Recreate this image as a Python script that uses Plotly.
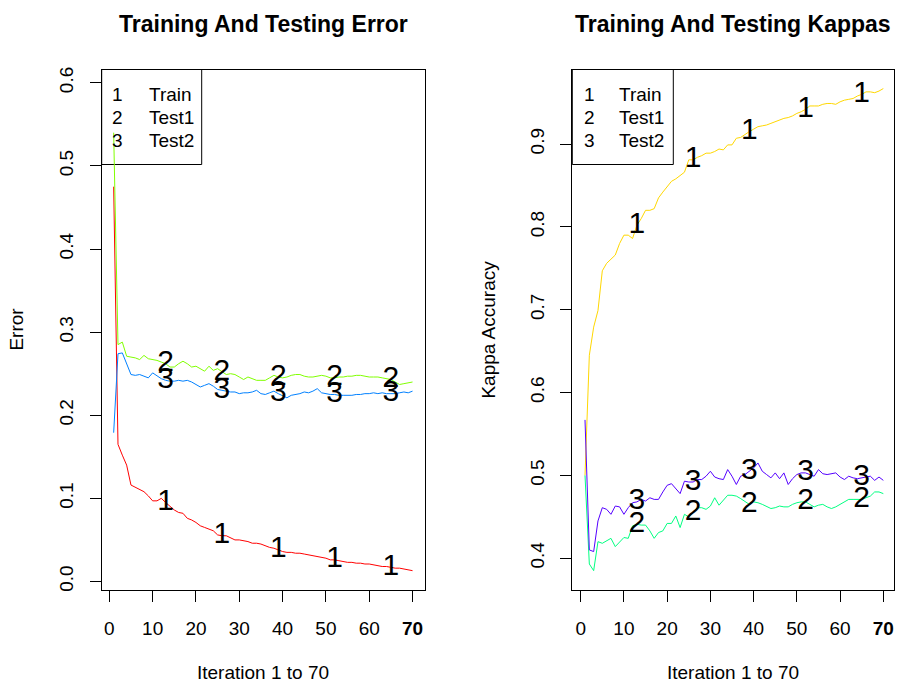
import plotly.graph_objects as go

# ---------------- data ----------------
iterations = list(range(1, 71))

train_error = [0.475, 0.165, 0.152, 0.140, 0.116, 0.113, 0.111, 0.108, 0.103, 0.097,
               0.097, 0.100, 0.095, 0.090, 0.086, 0.083, 0.082, 0.076, 0.074, 0.071,
               0.067, 0.065, 0.063, 0.061, 0.056, 0.055, 0.055, 0.052, 0.050, 0.050,
               0.049, 0.048, 0.046, 0.046, 0.045, 0.043, 0.041, 0.040, 0.038, 0.036,
               0.035, 0.035, 0.034, 0.034, 0.033, 0.032, 0.031, 0.030, 0.029, 0.028,
               0.026, 0.026, 0.025, 0.024, 0.023, 0.023, 0.022, 0.022, 0.021, 0.021,
               0.020, 0.019, 0.018, 0.018, 0.017, 0.016, 0.016, 0.015, 0.014, 0.013]

test1_error = [0.540, 0.285, 0.288, 0.271, 0.270, 0.269, 0.267, 0.272, 0.268, 0.267,
               0.266, 0.264, 0.262, 0.258, 0.258, 0.262, 0.265, 0.262, 0.258, 0.259,
               0.256, 0.253, 0.259, 0.254, 0.256, 0.252, 0.249, 0.250, 0.249, 0.246,
               0.243, 0.246, 0.244, 0.242, 0.242, 0.242, 0.245, 0.248, 0.246, 0.245,
               0.246, 0.248, 0.249, 0.249, 0.247, 0.246, 0.246, 0.247, 0.248, 0.247,
               0.245, 0.245, 0.246, 0.246, 0.247, 0.247, 0.248, 0.248, 0.247, 0.246,
               0.246, 0.246, 0.245, 0.244, 0.243, 0.240, 0.237, 0.238, 0.239, 0.240]

test2_error = [0.179, 0.274, 0.275, 0.262, 0.249, 0.248, 0.249, 0.247, 0.245, 0.251,
               0.247, 0.244, 0.242, 0.241, 0.241, 0.242, 0.241, 0.242, 0.240, 0.237,
               0.234, 0.236, 0.238, 0.235, 0.231, 0.230, 0.229, 0.228, 0.228, 0.226,
               0.227, 0.227, 0.228, 0.230, 0.226, 0.225, 0.227, 0.229, 0.226, 0.223,
               0.221, 0.224, 0.225, 0.226, 0.228, 0.227, 0.229, 0.232, 0.227, 0.226,
               0.225, 0.225, 0.224, 0.224, 0.224, 0.224, 0.225, 0.225, 0.226, 0.226,
               0.227, 0.226, 0.227, 0.226, 0.226, 0.226, 0.227, 0.228, 0.227, 0.229]

train_kappa = [0.500, 0.645, 0.679, 0.699, 0.747, 0.756, 0.761, 0.766, 0.780, 0.790,
               0.790, 0.786, 0.802, 0.810, 0.820, 0.820, 0.822, 0.835, 0.842, 0.848,
               0.855, 0.858, 0.862, 0.866, 0.881, 0.881, 0.884, 0.886, 0.889, 0.889,
               0.891, 0.894, 0.893, 0.899, 0.899, 0.907, 0.908, 0.912, 0.915, 0.918,
               0.921, 0.922, 0.923, 0.925, 0.927, 0.929, 0.931, 0.932, 0.934, 0.937,
               0.939, 0.942, 0.946, 0.946, 0.946, 0.948, 0.949, 0.949, 0.948, 0.951,
               0.953, 0.954, 0.955, 0.958, 0.960, 0.963, 0.963, 0.962, 0.964, 0.967]

test1_kappa = [0.500, 0.393, 0.385, 0.420, 0.418, 0.421, 0.424, 0.414, 0.420, 0.425,
               0.424, 0.439, 0.441, 0.440, 0.440, 0.433, 0.424, 0.431, 0.433, 0.442,
               0.442, 0.451, 0.437, 0.453, 0.450, 0.455, 0.461, 0.461, 0.459, 0.463,
               0.473, 0.464, 0.470, 0.476, 0.476, 0.475, 0.472, 0.468, 0.465, 0.468,
               0.467, 0.465, 0.462, 0.460, 0.461, 0.463, 0.462, 0.462, 0.465, 0.467,
               0.468, 0.468, 0.465, 0.462, 0.464, 0.465, 0.462, 0.460, 0.462, 0.465,
               0.468, 0.471, 0.471, 0.471, 0.471, 0.473, 0.475, 0.480, 0.480, 0.478]

test2_kappa = [0.567, 0.410, 0.408, 0.445, 0.461, 0.459, 0.453, 0.463, 0.462, 0.453,
               0.461, 0.467, 0.468, 0.471, 0.469, 0.473, 0.471, 0.471, 0.480, 0.488,
               0.490, 0.484, 0.478, 0.493, 0.492, 0.492, 0.495, 0.495, 0.499, 0.505,
               0.498, 0.496, 0.495, 0.507, 0.499, 0.489, 0.499, 0.501, 0.505, 0.509,
               0.515, 0.505, 0.501, 0.497, 0.503, 0.496, 0.503, 0.489, 0.496, 0.501,
               0.503, 0.503, 0.501, 0.499, 0.507, 0.502, 0.501, 0.502, 0.503, 0.498,
               0.495, 0.499, 0.497, 0.496, 0.497, 0.498, 0.499, 0.494, 0.498, 0.494]

label_iters = [13, 26, 39, 52, 65]
legend_keys = ["1", "2", "3"]
legend_names = ["Train", "Test1", "Test2"]
x_tick_vals = [0, 10, 20, 30, 40, 50, 60, 70]
x_tick_text = ["0", "10", "20", "30", "40", "50", "60", "<b>70</b>"]
error_ticks = [0.0, 0.1, 0.2, 0.3, 0.4, 0.5, 0.6]
kappa_ticks = [0.4, 0.5, 0.6, 0.7, 0.8, 0.9]

error_colors = ["#FF0000", "#80FF00", "#0080FF"]
kappa_colors = ["#FFD700", "#00FF80", "#5500FF"]

# ---------------- layout helpers ----------------
W, H = 897, 686
FONT = "Liberation Sans, Arial, Helvetica, sans-serif"


def px_x(v):
    return v / W


def px_y(v):
    return 1 - v / H


fig = go.Figure()

error_series = [train_error, test1_error, test2_error]
kappa_series = [train_kappa, test1_kappa, test2_kappa]

for series, color in zip(error_series, error_colors):
    fig.add_trace(go.Scatter(x=iterations, y=series, mode="lines",
                             line=dict(color=color, width=1),
                             xaxis="x", yaxis="y", showlegend=False, hoverinfo="skip"))
for series, key in zip(error_series, legend_keys):
    fig.add_trace(go.Scatter(x=label_iters, y=[series[i - 1] for i in label_iters],
                             mode="text", text=[key] * len(label_iters),
                             textposition="middle center",
                             textfont=dict(family=FONT, size=30, color="black"),
                             xaxis="x", yaxis="y", showlegend=False, hoverinfo="skip"))

for series, color in zip(kappa_series, kappa_colors):
    fig.add_trace(go.Scatter(x=iterations, y=series, mode="lines",
                             line=dict(color=color, width=1),
                             xaxis="x2", yaxis="y2", showlegend=False, hoverinfo="skip"))
for series, key in zip(kappa_series, legend_keys):
    fig.add_trace(go.Scatter(x=label_iters, y=[series[i - 1] for i in label_iters],
                             mode="text", text=[key] * len(label_iters),
                             textposition="middle center",
                             textfont=dict(family=FONT, size=30, color="black"),
                             xaxis="x2", yaxis="y2", showlegend=False, hoverinfo="skip"))

common_axis = dict(showline=True, mirror=True, linecolor="black", linewidth=1,
                   ticks="outside", ticklen=11, tickwidth=1, tickcolor="black",
                   showgrid=False, zeroline=False,
                   tickfont=dict(family=FONT, size=19, color="black"))

y_dom = [px_y(591), px_y(67)]
left_dom = [px_x(101.7), px_x(424.5)]
right_dom = [px_x(572.3), px_x(894.3)]

fig.update_layout(
    width=W, height=H,
    margin=dict(l=0, r=0, t=0, b=0),
    paper_bgcolor="white", plot_bgcolor="white",
    showlegend=False,
    xaxis=dict(domain=left_dom, range=[-1.76, 72.76], anchor="y",
               tickvals=x_tick_vals, ticktext=x_tick_text, ticklabelstandoff=11,
               **common_axis),
    yaxis=dict(domain=y_dom, range=[-0.0099, 0.616], anchor="x",
               tickvals=error_ticks, ticktext=[f"{v:.1f}" for v in error_ticks],
               tickangle=-90, ticklabelstandoff=9, **common_axis),
    xaxis2=dict(domain=right_dom, range=[-1.94, 72.54], anchor="y2",
                tickvals=x_tick_vals, ticktext=x_tick_text, ticklabelstandoff=11,
                **common_axis),
    yaxis2=dict(domain=y_dom, range=[0.362, 0.990], anchor="x2",
                tickvals=kappa_ticks, ticktext=[f"{v:.1f}" for v in kappa_ticks],
                tickangle=-90, ticklabelstandoff=9, **common_axis),
)

annotations = []
shapes = []

# titles
for cx, txt in [((101.7 + 424.5) / 2, "Training And Testing Error"),
                ((572.3 + 894.3) / 2, "Training And Testing Kappas")]:
    annotations.append(dict(x=px_x(cx), y=px_y(21), xref="paper", yref="paper",
                            text=f"<b>{txt}</b>", showarrow=False,
                            xanchor="center", yanchor="middle",
                            font=dict(family=FONT, size=23, color="black")))
    annotations.append(dict(x=px_x(cx), y=px_y(674), xref="paper", yref="paper",
                            text="Iteration 1 to 70", showarrow=False,
                            xanchor="center", yanchor="middle",
                            font=dict(family=FONT, size=19, color="black")))

annotations.append(dict(x=px_x(17), y=px_y(329), xref="paper", yref="paper",
                        text="Error", showarrow=False, textangle=-90,
                        xanchor="center", yanchor="middle",
                        font=dict(family=FONT, size=19, color="black")))
annotations.append(dict(x=px_x(489), y=px_y(329), xref="paper", yref="paper",
                        text="Kappa Accuracy", showarrow=False, textangle=-90,
                        xanchor="center", yanchor="middle",
                        font=dict(family=FONT, size=19, color="black")))

# legends
for left, right, key_x, name_x in [(101.7, 201.7, 118, 146.7),
                                   (572.3, 673.3, 589.3, 617.3)]:
    shapes.append(dict(type="rect", xref="paper", yref="paper",
                       x0=px_x(left), x1=px_x(right), y0=px_y(162.7), y1=px_y(67),
                       line=dict(color="black", width=1), fillcolor="rgba(0,0,0,0)",
                       layer="below"))
    for row, (key, name) in enumerate(zip(legend_keys, legend_names)):
        yy = 92.3 + row * 23
        annotations.append(dict(x=px_x(key_x), y=px_y(yy), xref="paper", yref="paper",
                                text=key, showarrow=False, xanchor="center",
                                yanchor="middle",
                                font=dict(family=FONT, size=19, color="black")))
        annotations.append(dict(x=px_x(name_x), y=px_y(yy), xref="paper", yref="paper",
                                text=name, showarrow=False, xanchor="left",
                                yanchor="middle",
                                font=dict(family=FONT, size=19, color="black")))

fig.update_layout(annotations=annotations, shapes=shapes)

fig.write_html(
    "out.html",
    config={"displayModeBar": False},
    post_script="document.body.style.margin='0';document.body.style.padding='0';"
                "document.body.style.overflow='hidden';",
)
